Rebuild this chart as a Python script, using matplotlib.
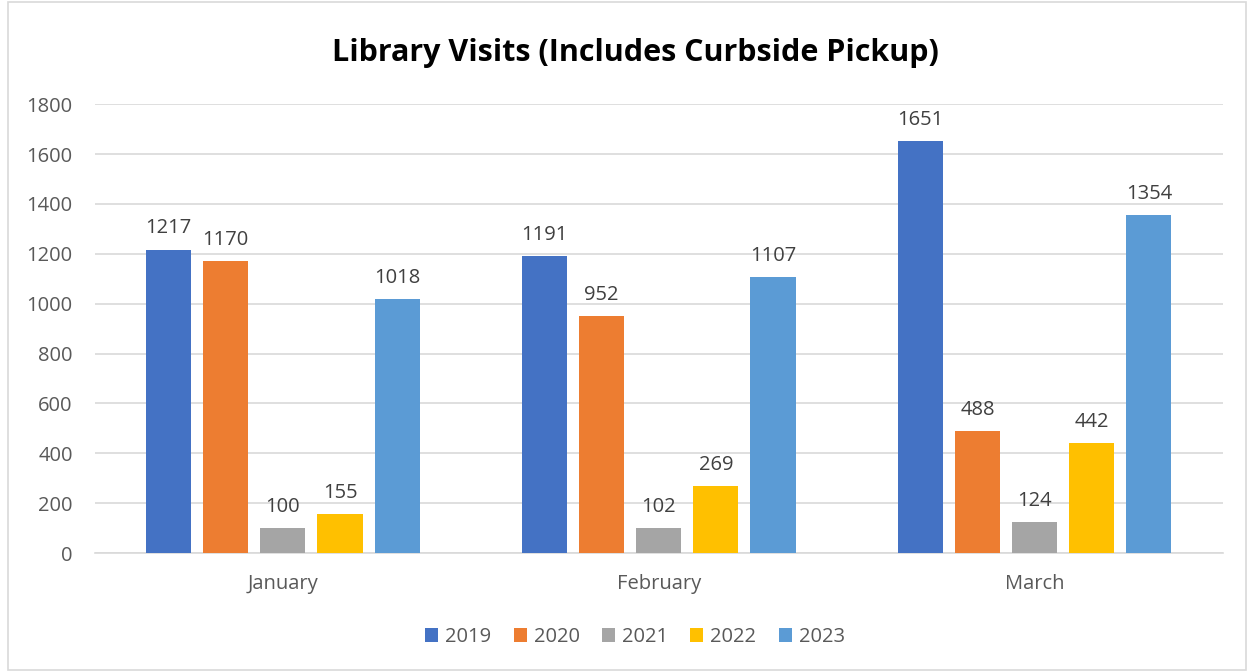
"""
Grouped bar chart: library visits per month, 2019-2023
"""

import numpy as np
import matplotlib.pyplot as plt
from matplotlib.patches import Rectangle

months = ["January", "February", "March"]
years = ["2019", "2020", "2021", "2022", "2023"]
visits_2019 = [1217, 1191, 1651]
visits_2020 = [1170, 952, 488]
visits_2021 = [100, 102, 124]
visits_2022 = [155, 269, 442]
visits_2023 = [1018, 1107, 1354]
series = [visits_2019, visits_2020, visits_2021, visits_2022, visits_2023]
bar_colors = ["#4472C4", "#ED7D31", "#A5A5A5", "#FFC000", "#5B9BD5"]

plt.rcParams["font.family"] = ["Open Sans", "DejaVu Sans"]
text_gray = "#595959"
fs = 14.5

fig = plt.figure(figsize=(12.5, 6.72), dpi=100)
fig.patch.set_facecolor("white")
fig.patches.append(
    Rectangle((0.006, 0.003), 0.991, 0.994, transform=fig.transFigure,
              fill=False, edgecolor="#D9D9D9", linewidth=1.2)
)

ax = fig.add_axes([0.076, 0.177, 0.902, 0.668])

x = np.arange(len(months))
step = 0.152
width = 0.12
for i, (year, vals) in enumerate(zip(years, series)):
    offs = (i - 2) * step
    bars = ax.bar(x + offs, vals, width, color=bar_colors[i], label=year, zorder=3)
    ax.bar_label(bars, padding=8, fontsize=fs, color="#404040")

ax.set_xlim(-0.5, 2.5)
ax.set_ylim(0, 1800)
ax.set_yticks(range(0, 1801, 200))
ax.set_xticks(x)
ax.set_xticklabels(months)
ax.tick_params(axis="both", length=0, labelsize=fs, labelcolor=text_gray)
ax.tick_params(axis="y", pad=16)
ax.tick_params(axis="x", pad=15)
ax.grid(axis="y", color="#D9D9D9", linewidth=1.2, zorder=0)
for side in ["top", "right", "left"]:
    ax.spines[side].set_visible(False)
ax.spines["bottom"].set_color("#D9D9D9")
ax.spines["bottom"].set_linewidth(1.2)

fig.text(0.508, 0.921, "Library Visits (Includes Curbside Pickup)",
         ha="center", va="center", fontsize=22, fontweight="bold", color="black")

fig.legend(loc="center", bbox_to_anchor=(0.508, 0.052), ncol=5, frameon=False,
           fontsize=fs, labelcolor=text_gray, handlelength=0.65, handleheight=0.65,
           handletextpad=0.35, columnspacing=1.1)

fig.savefig("out.png", dpi=100)
